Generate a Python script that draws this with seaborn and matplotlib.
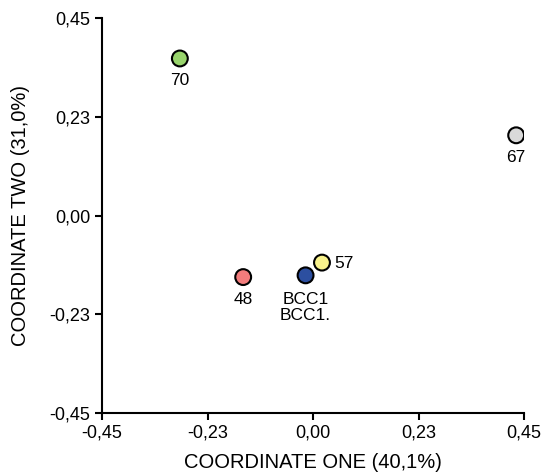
import pandas as pd
import numpy as np
import matplotlib
matplotlib.use('Agg')
import matplotlib.pyplot as plt
import seaborn as sns

samples = ['70', '67', '48', 'BCC1', '57']
coord_one = [-0.284, 0.433, -0.149, -0.016, 0.019]
coord_two = [0.358, 0.183, -0.140, -0.136, -0.107]
labels = ['70', '67', '48', 'BCC1\nBCC1.', '57']
colors = ['#98d46c', '#d9d9d9', '#f27c7c', '#2c4fa0', '#f8f28c']
ticks = [-0.45, -0.225, 0.0, 0.225, 0.45]
tick_labels = ['-0,45', '-0,23', '0,00', '0,23', '0,45']

df = pd.DataFrame({'sample': samples, 'x': coord_one, 'y': coord_two})

sns.set_style('ticks')
plt.rcParams['font.family'] = ['Liberation Sans', 'DejaVu Sans']
plt.rcParams['text.color'] = 'black'
plt.rcParams['axes.labelcolor'] = 'black'
plt.rcParams['xtick.color'] = 'black'
plt.rcParams['ytick.color'] = 'black'

fig = plt.figure(figsize=(5.44, 4.76), dpi=100)
ax = fig.add_axes([0.1875, 0.132, 0.776, 0.83])
sns.scatterplot(data=df, x='x', y='y', hue='sample', palette=colors, s=130,
                edgecolor='black', linewidth=1.5, legend=False, ax=ax, zorder=3)

for i in range(len(df)):
    if samples[i] == '57':
        ax.annotate(labels[i], (coord_one[i], coord_two[i]), xytext=(9, -1),
                    textcoords='offset points', ha='left', va='center', fontsize=12.5)
    elif samples[i] == 'BCC1':
        ax.annotate(labels[i], (coord_one[i], coord_two[i]), xytext=(0, -12),
                    textcoords='offset points', ha='center', va='top', fontsize=12.5,
                    linespacing=1.05)
    else:
        ax.annotate(labels[i], (coord_one[i], coord_two[i]), xytext=(0, -16),
                    textcoords='offset points', ha='center', va='center', fontsize=12.5)

ax.set_xlim(-0.45, 0.45)
ax.set_ylim(-0.45, 0.45)
ax.set_xticks(ticks)
ax.set_xticklabels(tick_labels)
ax.set_yticks(ticks)
ax.set_yticklabels(tick_labels)
ax.tick_params(direction='out', length=5, width=1.5, labelsize=13, color='black')
for sp in ['left', 'bottom']:
    ax.spines[sp].set_linewidth(1.5)
    ax.spines[sp].set_color('black')
sns.despine(ax=ax)
ax.set_xlabel('COORDINATE ONE (40,1%)', fontsize=14.5, labelpad=8)
ax.set_ylabel('COORDINATE TWO (31,0%)', fontsize=14.5, labelpad=14)

plt.savefig('out.png', dpi=100)
